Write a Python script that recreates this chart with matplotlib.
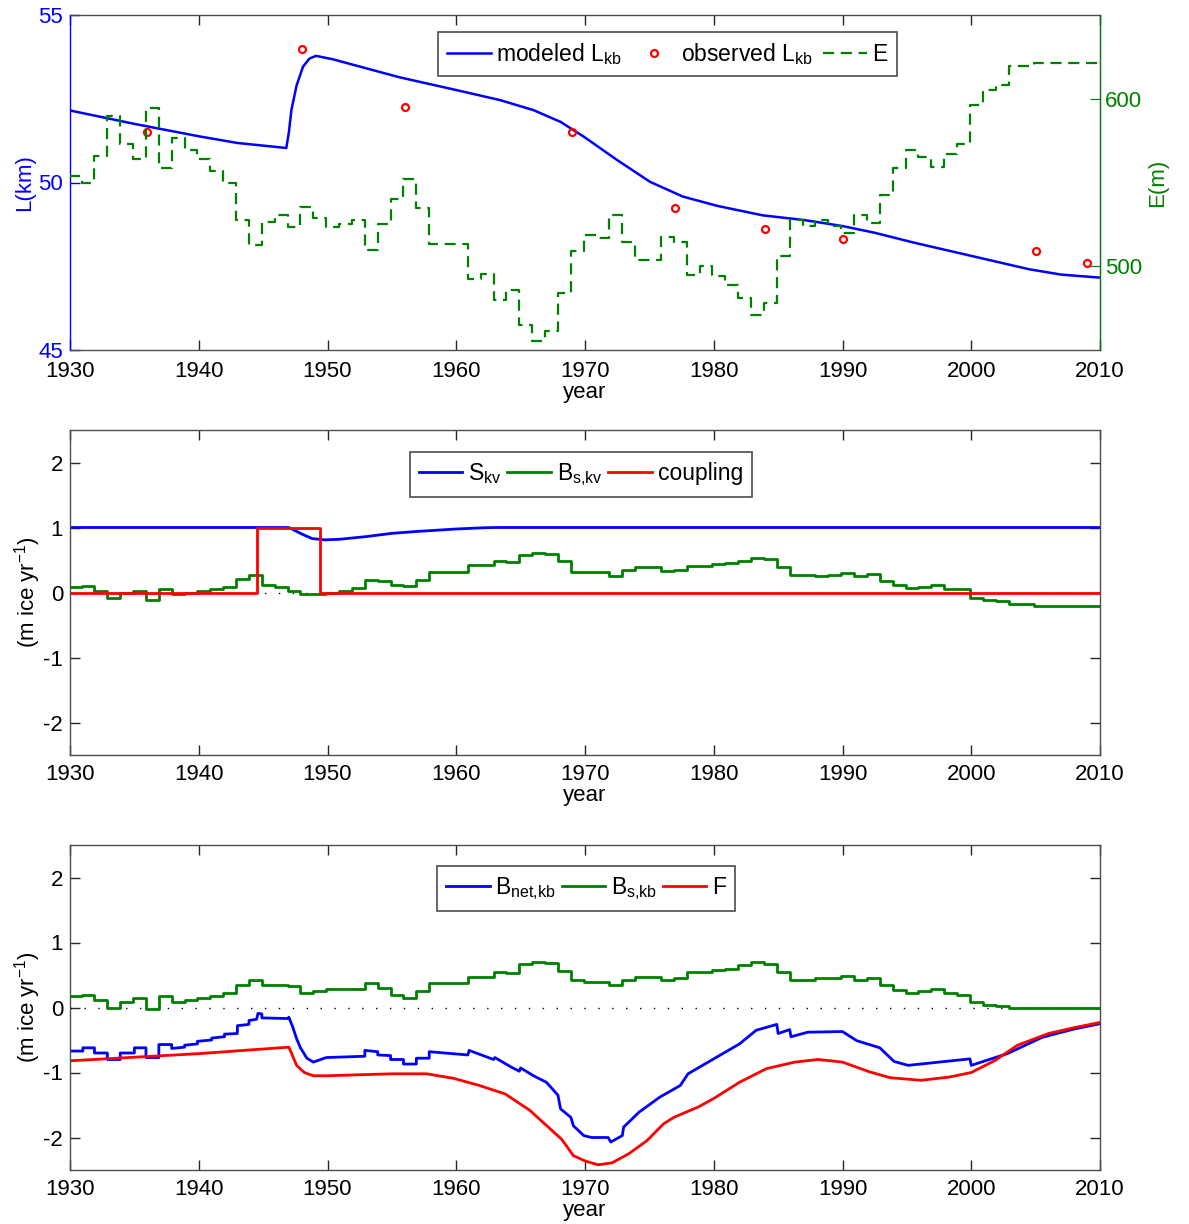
import numpy as np
import matplotlib
matplotlib.use("Agg")
from matplotlib import pyplot as plt

plt.rcParams['font.family'] = ['Liberation Sans', 'DejaVu Sans']
plt.rcParams['mathtext.fontset'] = 'custom'
plt.rcParams['mathtext.rm'] = 'Liberation Sans'
plt.rcParams['mathtext.default'] = 'regular'
plt.rcParams['axes.unicode_minus'] = False

BLUE = (0, 0, 1)
GREEN = (0, 0.5, 0)
RED = (1, 0, 0)
FS = 16
LFS = 16.5

# ---------- data ----------
years = np.arange(1930, 2011)

# equilibrium line altitude E (m), yearly steps
E = [554, 550, 566, 589.5, 573, 564, 594.5, 558.4, 576.6, 569.3,
     563.8, 556.8, 549.9, 527.7, 512.9, 526.7, 530.7, 523.2, 535.6, 528.7,
     523.2, 525, 527.7, 509.5, 525.3, 540.2, 552.1, 534.7, 513.5, 513.5,
     513.5, 492.1, 495.6, 479.6, 485.7, 464.8, 455.1, 461.4, 483.8, 508.9,
     518.8, 516.8, 530.7, 514.3, 504, 504, 517.4, 514.3, 494.5, 500,
     494, 489, 481, 471, 478, 506, 527.7, 523.8, 527.7, 523.8,
     519.8, 530.7, 526, 542.6, 558.4, 569.3, 565.3, 559, 567.3, 572.9,
     596, 605, 608.5, 619.4, 619.4, 621.4, 621.4, 621.4, 621.4, 621.4, 621.4]

# modeled glacier length (km)
L_year = [1930, 1935, 1940, 1943, 1946.8, 1947.0, 1947.2, 1947.6, 1948.1, 1948.6,
          1949.1, 1950.4, 1955.6, 1960, 1963.4, 1966, 1968.1, 1969.9, 1972.5, 1975.05,
          1977.6, 1980.3, 1983.8, 1987, 1990, 1992.5, 1995.6, 2000, 2004.5, 2007, 2010]
L_mod = [52.15, 51.75, 51.38, 51.18, 51.03, 51.5, 52.17, 52.9, 53.46, 53.7,
         53.78, 53.68, 53.14, 52.76, 52.46, 52.16, 51.81, 51.37, 50.67, 50.02,
         49.58, 49.3, 49.02, 48.88, 48.70, 48.5, 48.2, 47.81, 47.41, 47.25, 47.16]

# observed glacier length (km)
obs_year = [1936, 1948, 1956, 1969, 1977, 1984, 1990, 2005, 2009]
L_obs = [51.5, 54.0, 52.25, 51.5, 49.25, 48.6, 48.3, 47.95, 47.6]

# S_kv
S_year = [1930, 1947, 1948, 1948.8, 1949.8, 1951, 1953, 1955, 1957, 1960, 1962, 1963, 2010]
S_kv = [1, 1, 0.9, 0.83, 0.81, 0.82, 0.86, 0.91, 0.94, 0.977, 0.995, 1.0, 1.0]

# coupling switch
cpl_year = [1930, 1944.5, 1949.4, 2010]
coupling = [0, 1, 0, 0]

# B_s,kv yearly steps
Bs_kv = [0.08, 0.1, 0.02, -0.09, 0.0, 0.03, -0.12, 0.06, -0.03, 0.0,
         0.02, 0.05, 0.09, 0.21, 0.27, 0.11, 0.09, 0.02, -0.03, -0.03,
         0.0, 0.03, 0.07, 0.2, 0.17, 0.12, 0.1, 0.2, 0.32, 0.32,
         0.32, 0.42, 0.42, 0.48, 0.47, 0.58, 0.61, 0.59, 0.48, 0.32,
         0.31, 0.31, 0.26, 0.34, 0.39, 0.39, 0.33, 0.35, 0.41, 0.41,
         0.44, 0.45, 0.49, 0.53, 0.51, 0.39, 0.27, 0.27, 0.26, 0.27,
         0.3, 0.26, 0.28, 0.18, 0.12, 0.07, 0.08, 0.11, 0.06, 0.06,
         -0.08, -0.12, -0.13, -0.18, -0.18, -0.2, -0.2, -0.2, -0.2, -0.2, -0.2]

# B_s,kb yearly steps
Bs_kb = [0.17, 0.2, 0.11, 0.0, 0.08, 0.15, -0.02, 0.17, 0.08, 0.11,
         0.15, 0.18, 0.22, 0.35, 0.42, 0.35, 0.35, 0.33, 0.23, 0.26,
         0.28, 0.28, 0.28, 0.37, 0.3, 0.2, 0.15, 0.25, 0.37, 0.37,
         0.37, 0.47, 0.47, 0.55, 0.53, 0.67, 0.7, 0.68, 0.56, 0.43,
         0.39, 0.39, 0.34, 0.42, 0.47, 0.47, 0.42, 0.45, 0.55, 0.55,
         0.58, 0.6, 0.65, 0.7, 0.67, 0.55, 0.43, 0.43, 0.45, 0.45,
         0.48, 0.42, 0.45, 0.34, 0.27, 0.23, 0.25, 0.28, 0.23, 0.2,
         0.08, 0.04, 0.02, -0.01, -0.01, -0.01, -0.01, -0.01, -0.01, -0.01, -0.01]

# B_net,kb
Bn_year = [1930.0, 1931.0, 1931.0, 1931.9, 1931.9, 1932.9, 1932.9, 1933.9, 1933.9, 1935.0,
           1935.0, 1935.9, 1935.9, 1936.9, 1936.9, 1937.9, 1937.9, 1938.9, 1938.9, 1939.9,
           1939.9, 1941.0, 1941.0, 1942.0, 1942.0, 1943.0, 1943.0, 1943.9, 1943.9, 1944.5,
           1944.6, 1944.9, 1944.9, 1946.9, 1947.0, 1947.3, 1947.6, 1947.9, 1948.4, 1948.9,
           1949.9, 1952.9, 1952.9, 1953.9, 1953.9, 1954.9, 1954.9, 1955.9, 1955.9, 1956.9,
           1956.9, 1957.9, 1957.9, 1960.9, 1961.0, 1962.9, 1963.0, 1964.3, 1964.9, 1965.0,
           1966.0, 1967.0, 1967.9, 1968.1, 1968.9, 1969.1, 1969.9, 1970.5, 1971.8, 1972.0,
           1972.9, 1973.0, 1974.2, 1975.8, 1977.4, 1978.0, 1980.0, 1982.0, 1983.3, 1984.9,
           1985.0, 1985.9, 1986.0, 1987.3, 1990.0, 1991.1, 1992.9, 1994.0, 1995.1, 1997.5,
           1999.9, 2000.0, 2002.8, 2005.5, 2008.0, 2010.0]
Bnet_kb = [-0.67, -0.67, -0.62, -0.62, -0.70, -0.70, -0.80, -0.80, -0.70, -0.70,
           -0.62, -0.62, -0.77, -0.77, -0.57, -0.57, -0.63, -0.61, -0.58, -0.56,
           -0.52, -0.50, -0.47, -0.45, -0.41, -0.40, -0.28, -0.26, -0.20, -0.18,
           -0.09, -0.10, -0.16, -0.17, -0.15, -0.30, -0.48, -0.62, -0.78, -0.84,
           -0.77, -0.75, -0.66, -0.68, -0.73, -0.74, -0.80, -0.80, -0.87, -0.87,
           -0.78, -0.78, -0.68, -0.73, -0.66, -0.80, -0.77, -0.92, -0.98, -0.93,
           -1.05, -1.15, -1.35, -1.56, -1.69, -1.82, -1.97, -2.00, -2.00, -2.07,
           -1.97, -1.84, -1.61, -1.38, -1.20, -1.02, -0.79, -0.56, -0.35, -0.26,
           -0.40, -0.34, -0.45, -0.38, -0.37, -0.51, -0.62, -0.83, -0.89, -0.84,
           -0.79, -0.89, -0.71, -0.46, -0.33, -0.25]

# F
F_year = [1930, 1940, 1947.0, 1947.3, 1947.6, 1948.2, 1948.9, 1950, 1955, 1957.7,
          1959.8, 1961.8, 1963.8, 1965.7, 1967.7, 1968.2, 1969.1, 1970, 1971, 1972.1,
          1973.4, 1974.8, 1976.1, 1976.9, 1978.8, 1980, 1982, 1984.1, 1986.3, 1988.1,
          1990, 1992.1, 1993.7, 1996.1, 1998.3, 2000, 2001.8, 2003.6, 2006, 2008, 2010]
F = [-0.82, -0.71, -0.61, -0.75, -0.89, -1.00, -1.05, -1.05, -1.02, -1.02,
     -1.09, -1.20, -1.33, -1.58, -1.94, -2.03, -2.28, -2.36, -2.42, -2.39,
     -2.25, -2.05, -1.79, -1.69, -1.53, -1.40, -1.15, -0.94, -0.84, -0.80,
     -0.84, -0.99, -1.08, -1.12, -1.07, -1.00, -0.82, -0.58, -0.40, -0.31, -0.23]

step_x = years - 0.1  # yearly values change a little before the year mark

# ---------- figure ----------
fig = plt.figure(figsize=(11.89, 12.24), dpi=100)
left, width = 70 / 1189, 1030 / 1189
ax1 = fig.add_axes([left, 1 - 350 / 1224, width, 335 / 1224])
ax2 = fig.add_axes([left, 1 - 755 / 1224, width, 325 / 1224])
ax3 = fig.add_axes([left, 1 - 1170 / 1224, width, 325 / 1224])


def style_axes(ax, xpad=6.5):
    ax.set_xlim(1930, 2010)
    ax.set_xticks(np.arange(1930, 2011, 10))
    ax.tick_params(direction='in', length=7, width=1, labelsize=FS, top=True, right=True,
                   colors='0.15', labelcolor='black', pad=5)
    ax.tick_params(axis='x', pad=xpad)
    for s in ax.spines.values():
        s.set_color('0.3')
        s.set_linewidth(1)
    ax.set_xlabel('year', fontsize=FS, labelpad=0)


def add_legend(ax, handles, x, y, spacing):
    leg = ax.legend(handles=handles, loc='upper center', bbox_to_anchor=(x, y), ncol=3,
                    fontsize=LFS, fancybox=False, edgecolor='0.3', framealpha=1,
                    handlelength=1.9, handletextpad=0.25, columnspacing=spacing,
                    borderpad=0.4, borderaxespad=0)
    leg.get_frame().set_linewidth(1.2)


# panel 1
style_axes(ax1, xpad=8)
l1, = ax1.plot(L_year, L_mod, color=BLUE, lw=1.8, label=r'modeled L$_{kb}$')
l2, = ax1.plot(obs_year, L_obs, 'o', color=RED, mfc='none', ms=5, mew=1.6,
               label=r'observed L$_{kb}$')
ax1.set_ylim(45, 55)
ax1.set_yticks([45, 50, 55])
ax1.tick_params(axis='y', colors=BLUE, labelcolor=BLUE, right=True)
ax1.spines['left'].set_color(BLUE)
ax1.set_ylabel('L(km)', color=BLUE, fontsize=FS, labelpad=2)

ax1r = ax1.twinx()
ax1r.set_xlim(1930, 2010)
l3, = ax1r.plot(np.append(step_x, 2010), E + [E[-1]], '--', color=GREEN, lw=1.6,
                drawstyle='steps-post', dashes=(5, 3), label='E')
ax1r.set_ylim(450, 650)
ax1r.set_yticks([500, 600])
ax1r.tick_params(axis='y', direction='in', length=7, colors=GREEN, labelcolor=GREEN,
                 labelsize=FS)
ax1r.spines['right'].set_color(GREEN)
for s in ['left', 'top', 'bottom']:
    ax1r.spines[s].set_visible(False)
ax1r.set_ylabel('E(m)', color=GREEN, fontsize=FS, labelpad=4)
add_legend(ax1r, [l1, l2, l3], 0.58, 1 - 17 / 335, 0.45)

# panel 2
style_axes(ax2)
ax2.plot([1930, 2010], [0, 0], color='k', lw=1, linestyle=(0, (1, 9)))
h1, = ax2.plot(S_year, S_kv, color=BLUE, lw=2, label=r'S$_{kv}$')
h2, = ax2.plot(np.append(step_x, 2010), Bs_kv + [Bs_kv[-1]], color=GREEN, lw=2,
               drawstyle='steps-post', label=r'B$_{s{,}kv}$')
h3, = ax2.plot(cpl_year, coupling, color=RED, lw=2, drawstyle='steps-post', label='coupling')
ax2.set_ylim(-2.5, 2.5)
ax2.set_yticks([-2, -1, 0, 1, 2])
ax2.set_ylabel(r'(m ice yr$^{-1}$)', fontsize=FS, labelpad=0)
add_legend(ax2, [h1, h2, h3], 0.496, 1 - 22 / 325, 0.25)

# panel 3
style_axes(ax3)
ax3.plot([1930, 2010], [0, 0], color='k', lw=1, linestyle=(0, (1, 9)))
g1, = ax3.plot(Bn_year, Bnet_kb, color=BLUE, lw=2, label=r'B$_{net{,}kb}$')
g2, = ax3.plot(np.append(step_x, 2010), Bs_kb + [Bs_kb[-1]], color=GREEN, lw=2,
               drawstyle='steps-post', label=r'B$_{s{,}kb}$')
g3, = ax3.plot(F_year, F, color=RED, lw=2, label='F')
ax3.set_ylim(-2.5, 2.5)
ax3.set_yticks([-2, -1, 0, 1, 2])
ax3.set_ylabel(r'(m ice yr$^{-1}$)', fontsize=FS, labelpad=0)
add_legend(ax3, [g1, g2, g3], 0.501, 1 - 21 / 325, 0.25)

fig.savefig('out.png', dpi=100)
